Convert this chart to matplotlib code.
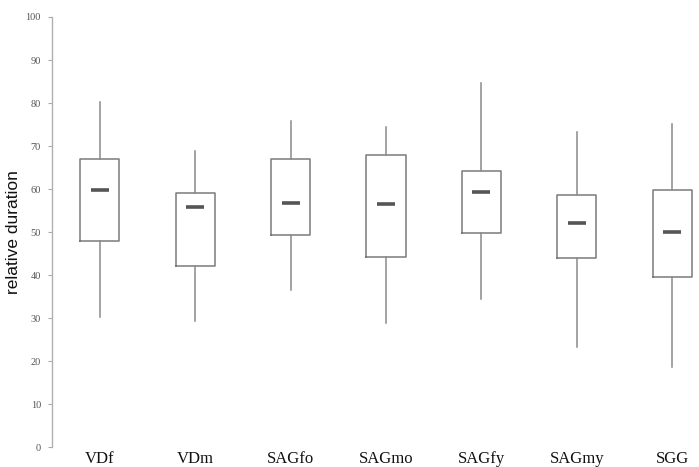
import matplotlib
matplotlib.use("Agg")
import matplotlib.pyplot as plt

groups = ["VDf", "VDm", "SAGfo", "SAGmo", "SAGfy", "SAGmy", "SGG"]
whisker_low = [30.2, 29.2, 36.5, 28.9, 34.4, 23.2, 18.7]
q1 = [48.0, 42.1, 49.3, 44.3, 49.7, 43.9, 39.5]
medians = [59.8, 55.7, 56.7, 56.4, 59.4, 52.2, 50.0]
q3 = [67.0, 59.0, 66.9, 68.0, 64.2, 58.6, 59.8]
whisker_high = [80.3, 68.9, 75.7, 74.5, 84.6, 73.3, 75.1]
yticks = [0, 10, 20, 30, 40, 50, 60, 70, 80, 90, 100]

stats = [
    {"label": g, "whislo": lo, "q1": a, "med": m, "q3": b, "whishi": hi, "fliers": []}
    for g, lo, a, m, b, hi in zip(groups, whisker_low, q1, medians, q3, whisker_high)
]
positions = list(range(len(groups)))

fig = plt.figure(figsize=(6.99, 4.67), dpi=100)
ax = fig.add_axes([0.0744, 0.0428, 0.9256, 0.9208])

ax.bxp(
    stats,
    positions=positions,
    widths=0.41,
    showcaps=False,
    boxprops=dict(color="#7a7a7a", linewidth=1.1),
    whiskerprops=dict(color="#8a8a8a", linewidth=1.1),
    medianprops=dict(visible=False),
)
# short dark dash for the median
ax.plot(positions, medians, ls="none", marker="_", ms=13, mew=2.6, color="#555555")

ax.set_xlim(-0.5, 6.28)
ax.set_ylim(0, 100)
ax.set_yticks(yticks)
ax.set_xticks(positions)
ax.set_xticklabels(groups, family="Liberation Serif", fontsize=12, color="#111111")
for lab in ax.get_yticklabels():
    lab.set_family("Liberation Serif")
ax.tick_params(axis="y", labelsize=7.5, colors="#555555", length=3, width=0.8,
               color="#aaaaaa", pad=5)
ax.tick_params(axis="x", length=0, pad=3)

for side in ["top", "right", "bottom"]:
    ax.spines[side].set_visible(False)
ax.spines["left"].set_color("#b0b0b0")
ax.spines["left"].set_linewidth(1.0)

ax.set_ylabel("relative duration", family="Liberation Sans", fontsize=12.5, color="#111111")
ax.yaxis.set_label_coords(-0.048, 0.5)

fig.savefig("out.png", dpi=100)
